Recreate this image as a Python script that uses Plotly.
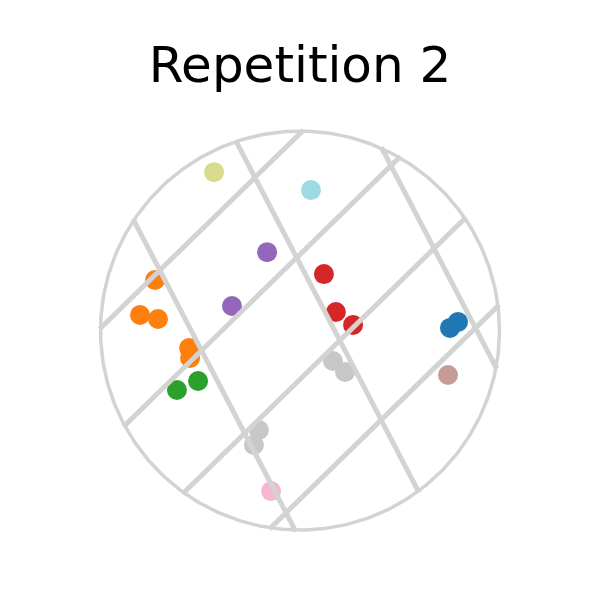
import numpy as np
import plotly.graph_objects as go

# ---- data (unit-circle coordinates) ----
cluster_colors = ["#dbdb8d", "#9edae5", "#9467bd", "#ff7f0e", "#2ca02c",
                  "#d62728", "#1f77b4", "#c49c94", "#c7c7c7", "#f7b6d2"]
cluster_x = [
    [-0.431],
    [0.055],
    [-0.165, -0.341],
    [-0.727, -0.802, -0.712, -0.556, -0.551],
    [-0.617, -0.511],
    [0.120, 0.180, 0.266],
    [0.752, 0.792],
    [0.742],
    [0.165, 0.226, -0.206, -0.231],
    [-0.145],
]
cluster_y = [
    [0.794],
    [0.704],
    [0.393, 0.123],
    [0.253, 0.078, 0.058, -0.088, -0.138],
    [-0.298, -0.253],
    [0.283, 0.093, 0.028],
    [0.013, 0.043],
    [-0.223],
    [-0.153, -0.208, -0.499, -0.574],
    [-0.805],
]

# grid line families: direction angle (deg) and offsets along the normal
family_a_angle = 44.3
family_a_offsets = [-0.605, -0.175, 0.273, 0.707]
family_b_angle = -62.5
family_b_offsets = [-0.484, 0.154, 0.786]

title_text = "Repetition 2"

GRID = "#d3d3d3"

fig = go.Figure()

for xs, ys, col in zip(cluster_x, cluster_y, cluster_colors):
    fig.add_trace(go.Scatter(x=xs, y=ys, mode="markers",
                             marker=dict(size=20, color=col, line=dict(width=0)),
                             showlegend=False, hoverinfo="skip"))


def chord(angle_deg, c):
    a = np.deg2rad(angle_deg)
    d = np.array([np.cos(a), np.sin(a)])
    n = np.array([-d[1], d[0]])
    h = np.sqrt(max(0.0, 1 - c * c)) + 0.008
    p0 = c * n - h * d
    p1 = c * n + h * d
    return [p0[0], p1[0]], [p0[1], p1[1]]


for ang, offs in [(family_a_angle, family_a_offsets), (family_b_angle, family_b_offsets)]:
    for c in offs:
        lx, ly = chord(ang, c)
        fig.add_trace(go.Scatter(x=lx, y=ly, mode="lines",
                                 line=dict(color=GRID, width=5),
                                 showlegend=False, hoverinfo="skip"))

t = np.linspace(0, 2 * np.pi, 400)
fig.add_trace(go.Scatter(x=np.cos(t), y=np.sin(t), mode="lines",
                         line=dict(color=GRID, width=3.5),
                         showlegend=False, hoverinfo="skip"))

fig.update_layout(
    width=600, height=600,
    margin=dict(l=0, r=0, t=0, b=0),
    paper_bgcolor="white", plot_bgcolor="white",
    title=dict(text=title_text, x=0.5, xanchor="center", y=0.892, yanchor="middle",
               font=dict(family="DejaVu Sans", size=50, color="black")),
    xaxis=dict(range=[-1.504, 1.504], visible=False, fixedrange=True),
    yaxis=dict(range=[-1.351, 1.657], visible=False, fixedrange=True),
    hovermode=False,
)

fig.write_html("out.html", config={"displayModeBar": False},
               post_script="document.body.style.margin='0';")
